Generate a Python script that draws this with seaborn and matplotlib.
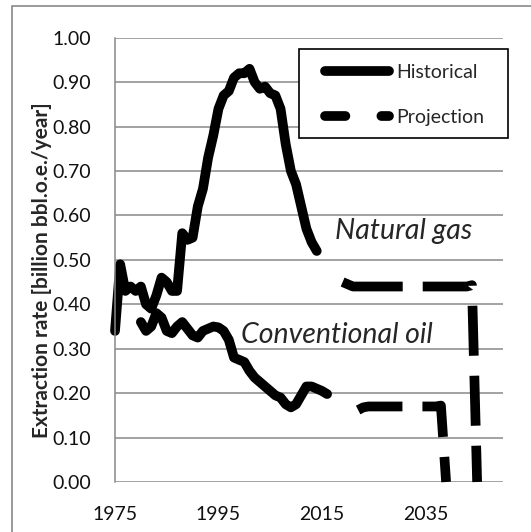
import numpy as np
import pandas as pd
import seaborn as sns
import matplotlib.pyplot as plt
from matplotlib.lines import Line2D
from matplotlib.patches import Rectangle

# historical natural gas 1975-2014
gas_years = list(range(1975, 2015))
gas_hist = [0.34, 0.49, 0.43, 0.44, 0.43, 0.44, 0.40, 0.39, 0.42, 0.46,
            0.45, 0.43, 0.43, 0.56, 0.545, 0.55, 0.62, 0.66, 0.73, 0.78,
            0.84, 0.87, 0.88, 0.91, 0.92, 0.92, 0.93, 0.90, 0.885, 0.89,
            0.875, 0.87, 0.84, 0.76, 0.70, 0.67, 0.62, 0.57, 0.54, 0.52]

# historical conventional oil 1980-2016
oil_years = list(range(1980, 2017))
oil_hist = [0.36, 0.34, 0.35, 0.38, 0.37, 0.34, 0.335, 0.35, 0.36, 0.345,
            0.33, 0.325, 0.34, 0.345, 0.35, 0.348, 0.34, 0.32, 0.28, 0.275,
            0.27, 0.25, 0.235, 0.225, 0.215, 0.205, 0.195, 0.19, 0.175, 0.168,
            0.175, 0.195, 0.215, 0.215, 0.21, 0.205, 0.198]

# projections
gas_proj_years = list(range(2019, 2046))
gas_proj = [0.45, 0.445, 0.44, 0.44, 0.44, 0.44, 0.44, 0.44, 0.44, 0.44,
            0.44, 0.44, 0.44, 0.44, 0.44, 0.44, 0.44, 0.44, 0.44, 0.44,
            0.44, 0.44, 0.44, 0.44, 0.44, 0.443, 0.0]

oil_proj_years = list(range(2022, 2040))
oil_proj = [0.162, 0.168, 0.17, 0.17, 0.17, 0.17, 0.17, 0.17, 0.17, 0.17,
            0.17, 0.17, 0.17, 0.17, 0.17, 0.17, 0.172, 0.0]

x_ticks = [1975, 1995, 2015, 2035]
y_ticks = [0.0, 0.1, 0.2, 0.3, 0.4, 0.5, 0.6, 0.7, 0.8, 0.9, 1.0]

sns.set_style('white')
plt.rcParams['font.family'] = ['Lato', 'DejaVu Sans']

W, H = 531, 532
fig = plt.figure(figsize=(W / 100, H / 100), dpi=100)
ax = fig.add_axes([115/W, 1-482/H, 388/W, 444.3/H])

lw = 7
lw_px = lw * 100 / 72
grey = '#898989'

# dash pattern in pixels -> line width units
gas_dash = [d / lw_px for d in [61, 20, 50, 20, 50, 20, 50, 20, 50, 20, 50, 20]]
oil_dash = [d / lw_px for d in [45, 20, 50, 20, 50, 20, 50, 20]]

hist_kw = dict(color='black', lw=lw, solid_capstyle='round', solid_joinstyle='round', clip_on=False)

sns.lineplot(x=gas_years, y=gas_hist, ax=ax, **hist_kw)
sns.lineplot(x=oil_years, y=oil_hist, ax=ax, **hist_kw)
sns.lineplot(x=gas_proj_years, y=gas_proj, ax=ax, color='black', lw=lw,
             linestyle=(0, gas_dash), dash_capstyle='butt', dash_joinstyle='round', clip_on=False)
sns.lineplot(x=oil_proj_years, y=oil_proj, ax=ax, color='black', lw=lw,
             linestyle=(0, oil_dash), dash_capstyle='butt', dash_joinstyle='round', clip_on=False)

ax.set_xlim(1975, 2050)
ax.set_ylim(0, 1)
ax.set_xticks(x_ticks)
ax.set_yticks(y_ticks)
ax.set_yticklabels(['%.2f' % v for v in y_ticks])
ax.tick_params(length=0, labelsize=14, pad=17, labelcolor='#111111')

ax.grid(axis='y', color=grey, lw=1.1)
ax.set_axisbelow(True)
for s in ['top', 'right', 'bottom']:
    ax.spines[s].set_visible(False)
ax.spines['left'].set_color(grey)
ax.spines['left'].set_linewidth(1.1)

ax.set_ylabel('Extraction rate [billion bbl.o.e./year]', fontsize=15, fontweight='bold')
ax.yaxis.set_label_coords(-0.163, 0.477)

ax.text(2017.6, 0.564, 'Natural gas', fontsize=20.5, style='italic', ha='left', va='center')
ax.text(1999.4, 0.33, 'Conventional oil', fontsize=20.5, style='italic', ha='left', va='center')

# legend box (white, black edge) drawn separately so padding can match
fig.patches.append(Rectangle((299/W, 1-138/H), 209/W, 89/H, transform=fig.transFigure,
                             facecolor='white', edgecolor='black', lw=1.2))

handles = [Line2D([], [], color='black', lw=lw, solid_capstyle='round'),
           Line2D([], [], color='black', lw=lw, linestyle=(0, (2.1, 3.7)), dash_capstyle='round')]
leg = fig.legend(handles, ['Historical', 'Projection'], loc='upper left',
                 bbox_to_anchor=(325/W, 1-63.5/H), fontsize=14, frameon=False,
                 handlelength=3.27, handletextpad=0.4,
                 labelspacing=1.45, borderpad=0, borderaxespad=0)

# chart area border
fig.patches.append(Rectangle((12/W, -0.1), 1.2, 1-6/H+0.1, transform=fig.transFigure,
                             fill=False, edgecolor=grey, lw=1.2))

fig.savefig('out.png', dpi=100)
